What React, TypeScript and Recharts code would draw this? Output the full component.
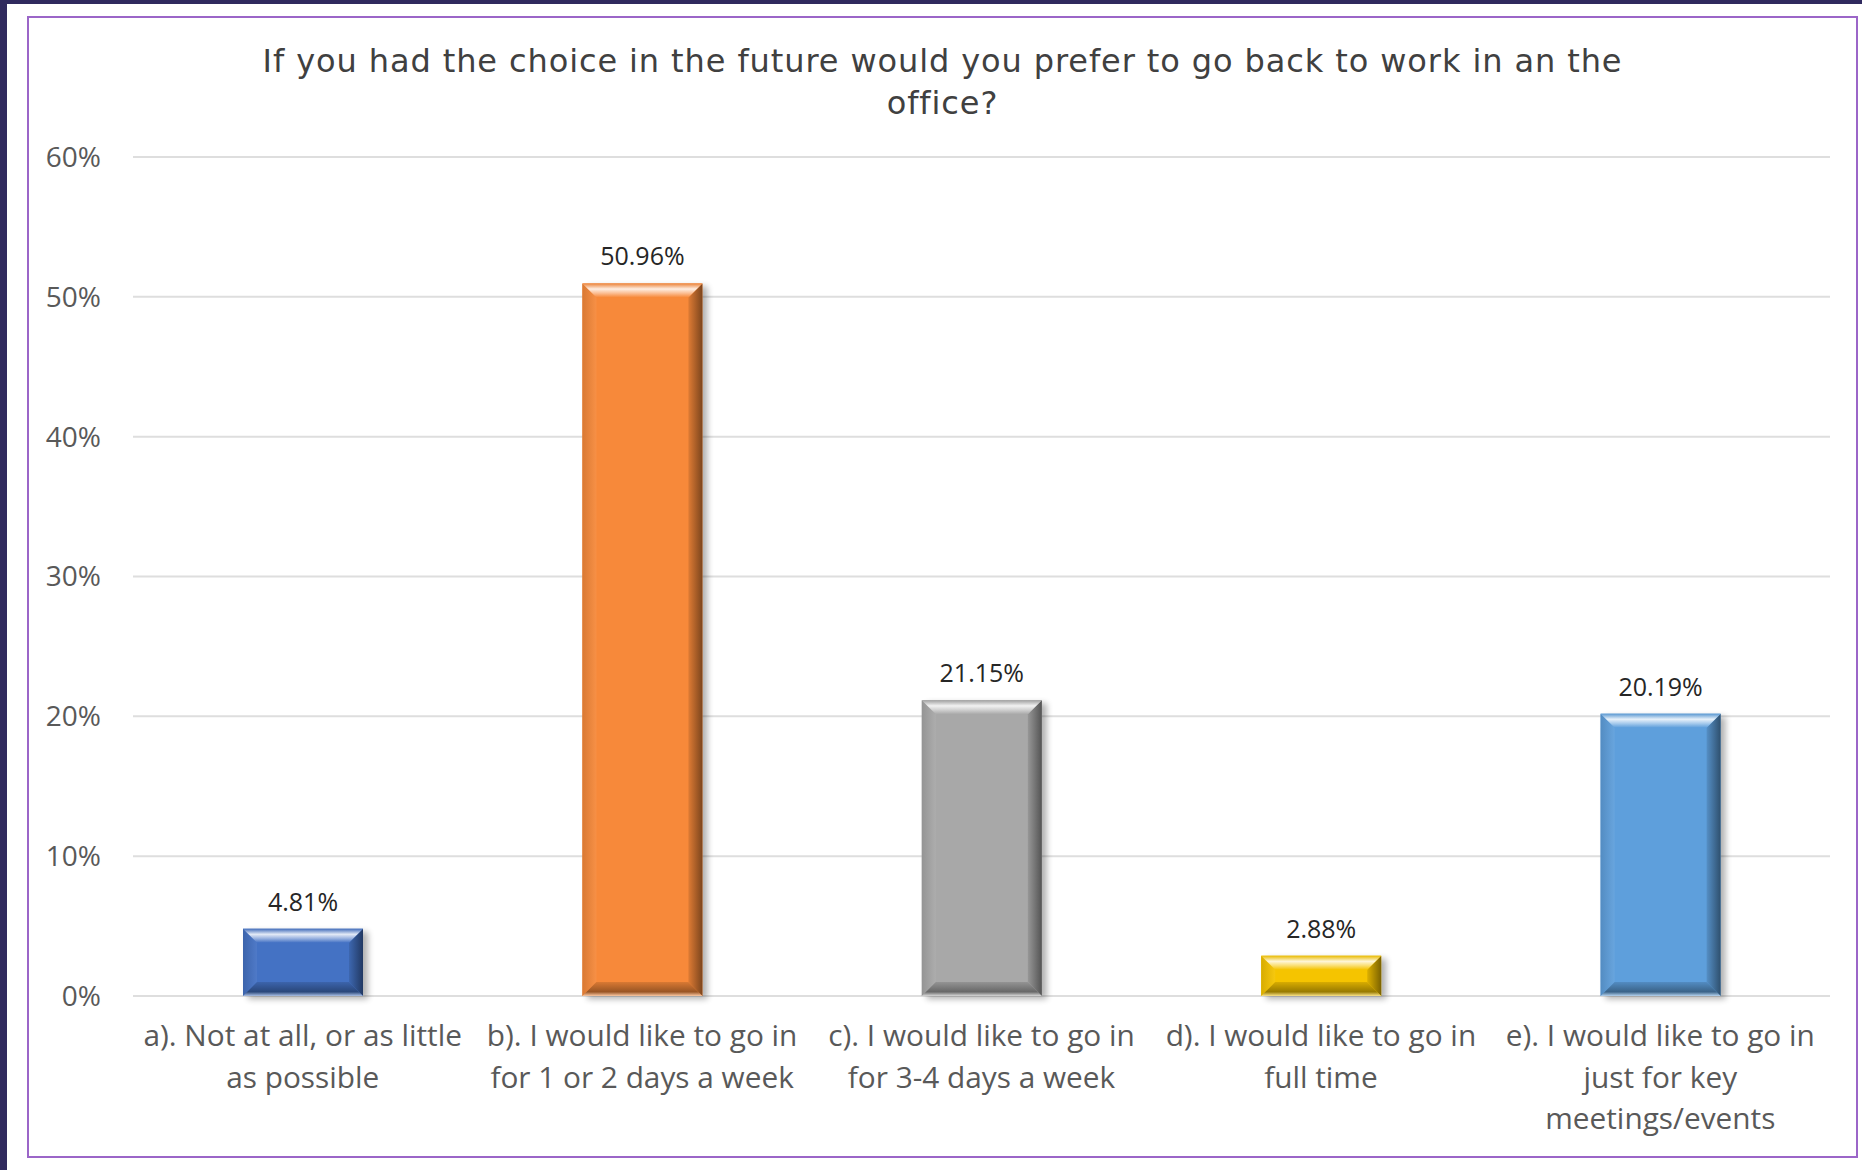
import { BarChart, Bar, XAxis, YAxis, CartesianGrid, LabelList } from "recharts";

const categories = [
  "a). Not at all, or as little\nas possible",
  "b). I would like to go in\nfor 1 or 2 days a week",
  "c). I would like to go in\nfor 3-4 days a week",
  "d). I would like to go in\nfull time",
  "e). I would like to go in\njust for key\nmeetings/events",
];
const shares = [4.81, 50.96, 21.15, 2.88, 20.19];
const barColors = ["#4472C4", "#F7893A", "#A8A8A8", "#F5C400", "#5E9FDC"];
const yTicks = [0, 10, 20, 30, 40, 50, 60];
const titleLines = [
  "If you had the choice in the future would you prefer to go back to work in an the",
  "office?",
];

const data = categories.map((label, i) => ({ label, value: shares[i] }));

function hexToRgb(hex: string) {
  const n = parseInt(hex.slice(1), 16);
  return [(n >> 16) & 255, (n >> 8) & 255, n & 255];
}

function shade(hex: string, f: number) {
  const [r, g, b] = hexToRgb(hex);
  return `rgb(${Math.round(r * f)},${Math.round(g * f)},${Math.round(b * f)})`;
}

function tint(hex: string, t: number) {
  const [r, g, b] = hexToRgb(hex);
  const m = (c: number) => Math.round(c + (255 - c) * t);
  return `rgb(${m(r)},${m(g)},${m(b)})`;
}

function BevelBar(props: any) {
  const { x, y, width: w, height: h, index } = props;
  if (!h || h <= 0) return null;
  const base = barColors[index % barColors.length];
  const b = Math.min(14, h / 2, w / 2);
  const id = `bar${index}`;
  const pts = (arr: number[][]) => arr.map((p) => p.join(",")).join(" ");
  return (
    <g>
      <defs>
        <filter id={`${id}-sh`} x="-20%" y="-20%" width="140%" height="140%">
          <feGaussianBlur stdDeviation="3" />
        </filter>
        <linearGradient id={`${id}-t`} x1="0" y1="0" x2="0" y2="1">
          <stop offset="0%" stopColor={shade(base, 0.95)} />
          <stop offset="40%" stopColor={tint(base, 0.85)} />
          <stop offset="70%" stopColor={tint(base, 0.45)} />
          <stop offset="100%" stopColor={base} />
        </linearGradient>
        <linearGradient id={`${id}-l`} x1="0" y1="0" x2="1" y2="0">
          <stop offset="0%" stopColor={shade(base, 0.88)} />
          <stop offset="100%" stopColor={tint(base, 0.06)} />
        </linearGradient>
        <linearGradient id={`${id}-r`} x1="0" y1="0" x2="1" y2="0">
          <stop offset="0%" stopColor={shade(base, 0.9)} />
          <stop offset="100%" stopColor={shade(base, 0.5)} />
        </linearGradient>
        <linearGradient id={`${id}-b`} x1="0" y1="0" x2="0" y2="1">
          <stop offset="0%" stopColor={shade(base, 0.88)} />
          <stop offset="70%" stopColor={shade(base, 0.62)} />
          <stop offset="100%" stopColor={tint(base, 0.55)} />
        </linearGradient>
      </defs>
      <rect x={x + 5} y={y + 3} width={w} height={h} fill="#000" opacity={0.3} filter={`url(#${id}-sh)`} />
      <rect x={x} y={y} width={w} height={h} fill={base} />
      <polygon points={pts([[x, y], [x + b, y + b], [x + b, y + h - b], [x, y + h]])} fill={`url(#${id}-l)`} />
      <polygon points={pts([[x + w, y], [x + w - b, y + b], [x + w - b, y + h - b], [x + w, y + h]])} fill={`url(#${id}-r)`} />
      <polygon points={pts([[x, y], [x + w, y], [x + w - b, y + b], [x + b, y + b]])} fill={`url(#${id}-t)`} />
      <polygon points={pts([[x + b, y + h - b], [x + w - b, y + h - b], [x + w, y + h], [x, y + h]])} fill={`url(#${id}-b)`} />
    </g>
  );
}

function CategoryTick(props: any) {
  const { x, y, payload } = props;
  const lines = String(payload.value).split("\n");
  return (
    <text
      x={x}
      y={y + 50}
      textAnchor="middle"
      fill="#595959"
      style={{ fontFamily: "'Open Sans', sans-serif", fontSize: 29.8 }}
    >
      {lines.map((ln, i) => (
        <tspan key={i} x={x} dy={i === 0 ? 0 : 41.5}>
          {ln}
        </tspan>
      ))}
    </text>
  );
}

export default function App() {
  return (
    <div
      style={{
        position: "fixed",
        left: 0,
        top: 0,
        width: 1862,
        height: 1170,
        background: "#302A5E",
        overflow: "hidden",
      }}
    >
      <div style={{ position: "absolute", left: 7, top: 4, right: 0, bottom: 0, background: "#fff" }} />
      <div
        style={{
          position: "absolute",
          left: 27,
          top: 16,
          width: 1831,
          height: 1142,
          border: "2px solid #9B66C8",
          boxSizing: "border-box",
        }}
      />
      <div
        style={{
          position: "absolute",
          left: 27,
          top: 40,
          width: 1831,
          textAlign: "center",
          fontFamily: "'DejaVu Sans', Verdana, sans-serif",
          fontSize: 32,
          letterSpacing: 0.9,
          lineHeight: "42px",
          color: "#404040",
        }}
      >
        {titleLines.map((t, i) => (
          <div key={i}>{t}</div>
        ))}
      </div>
      <div style={{ position: "absolute", left: 0, top: 0 }}>
        <BarChart
          width={1862}
          height={1170}
          data={data}
          margin={{ top: 157, right: 32, bottom: 14, left: 0 }}
        >
          <CartesianGrid vertical={false} stroke="#DEDEDE" strokeWidth={2} />
          <XAxis
            dataKey="label"
            interval={0}
            height={160}
            tickLine={false}
            axisLine={false}
            tickSize={0}
            tickMargin={0}
            tick={<CategoryTick />}
          />
          <YAxis
            domain={[0, 60]}
            ticks={yTicks}
            width={133}
            tickLine={false}
            axisLine={false}
            tickSize={8}
            tickMargin={24}
            tickFormatter={(v: number) => `${v}%`}
            tick={{ fill: "#595959", fontSize: 28, fontFamily: "'Open Sans', sans-serif" }}
          />
          <Bar dataKey="value" barSize={120} isAnimationActive={false} shape={<BevelBar />}>
            <LabelList
              dataKey="value"
              position="top"
              offset={18}
              formatter={(v: any) => `${Number(v).toFixed(2)}%`}
              style={{ fill: "#262626", fontSize: 25, fontFamily: "'Open Sans', sans-serif" }}
            />
          </Bar>
        </BarChart>
      </div>
    </div>
  );
}
